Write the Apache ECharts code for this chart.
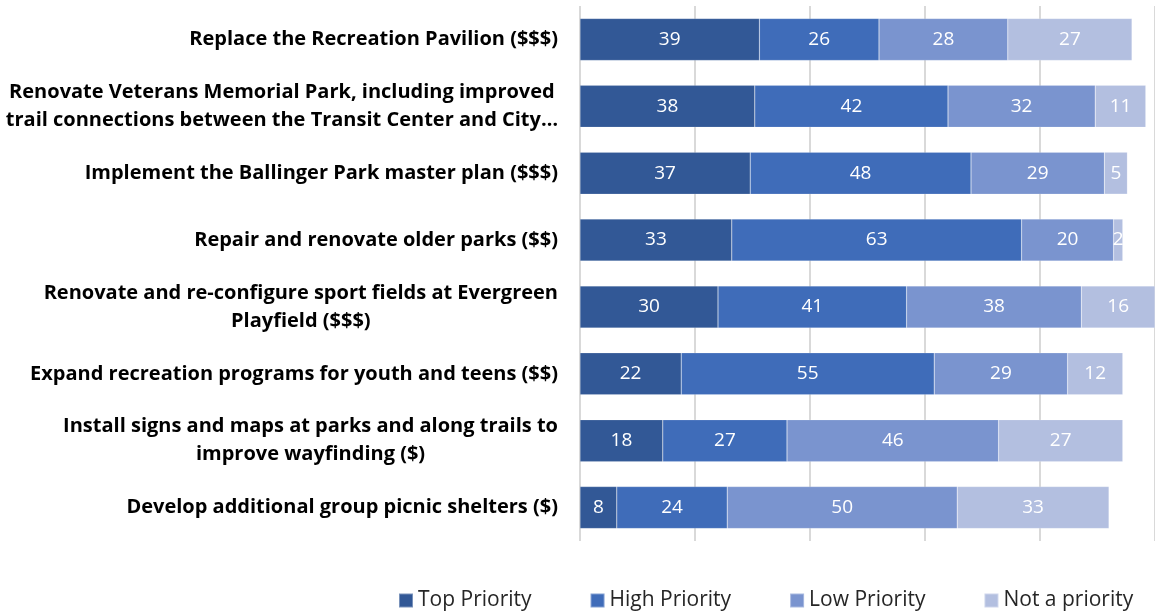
<!DOCTYPE html>
<html lang="en">
  <head>
    <meta charset="UTF-8" />
    <title>Priorities</title>
    <style>
      html, body { margin: 0; padding: 0; background: #fff; }
      #container { width: 1155px; height: 612px; }
    </style>
    <script src="https://cdn.jsdelivr.net/npm/echarts@6.0.0/dist/echarts.min.js"></script>
  </head>
  <body>
    <div id="container"></div>
    <script>
      const categories = [
        'Replace the Recreation Pavilion ($$$)',
        'Renovate Veterans Memorial Park, including improved\ntrail connections between the Transit Center and City…',
        'Implement the Ballinger Park master plan ($$$)',
        'Repair and renovate older parks ($$)',
        'Renovate and re-configure sport fields at Evergreen\nPlayfield ($$$)',
        'Expand recreation programs for youth and teens ($$)',
        'Install signs and maps at parks and along trails to\nimprove wayfinding ($)',
        'Develop additional group picnic shelters ($)',
      ]
      const topPriority = [39, 38, 37, 33, 30, 22, 18, 8]
      const highPriority = [26, 42, 48, 63, 41, 55, 27, 24]
      const lowPriority = [28, 32, 29, 20, 38, 29, 46, 50]
      const notPriority = [27, 11, 5, 2, 16, 12, 27, 33]

      const seriesNames = ['Top Priority', 'High Priority', 'Low Priority', 'Not a priority']
      const seriesData = [topPriority, highPriority, lowPriority, notPriority]
      const colors = ['#325896', '#3F6CB9', '#7A94CF', '#B3BFE0']

      const chart = echarts.init(document.getElementById('container'))

      chart.setOption({
        animation: false,
        textStyle: { fontFamily: 'Open Sans' },
        grid: { left: 580, width: 579, top: 6, bottom: 71, containLabel: false },
        legend: {
          top: 590,
          left: 398,
          padding: 0,
          itemWidth: 14,
          itemHeight: 14,
          itemGap: 58,
          icon: 'rect',
          textStyle: { fontSize: 21, color: '#262626', fontFamily: 'Open Sans' },
          data: seriesNames,
        },
        xAxis: {
          type: 'value',
          min: 0,
          max: 125,
          interval: 25,
          axisLabel: { show: false },
          axisLine: { show: false },
          axisTick: { show: false },
          splitLine: { lineStyle: { color: '#D9D9D9', width: 2 } },
        },
        yAxis: {
          type: 'category',
          inverse: true,
          data: categories,
          axisLine: { show: false },
          axisTick: { show: false },
          axisLabel: {
            margin: 22,
            formatter: function (v) {
              return v.split('\n').map((l) => '{c|' + l + '}').join('\n')
            },
            rich: {
              c: {
                align: 'center',
                fontSize: 20,
                fontWeight: 'bold',
                fontFamily: 'Open Sans',
                color: '#000',
                lineHeight: 28,
              },
            },
          },
        },
        series: seriesNames.map((name, i) => ({
          name: name,
          type: 'bar',
          stack: 'total',
          barWidth: 42,
          data: seriesData[i],
          itemStyle: { color: colors[i], borderColor: 'rgba(255,255,255,0.35)', borderWidth: 0.5 },
          label: {
            show: true,
            position: 'inside',
            color: '#fff',
            fontSize: 19,
            fontFamily: 'Open Sans',
          },
        })),
      })
    </script>
  </body>
</html>
